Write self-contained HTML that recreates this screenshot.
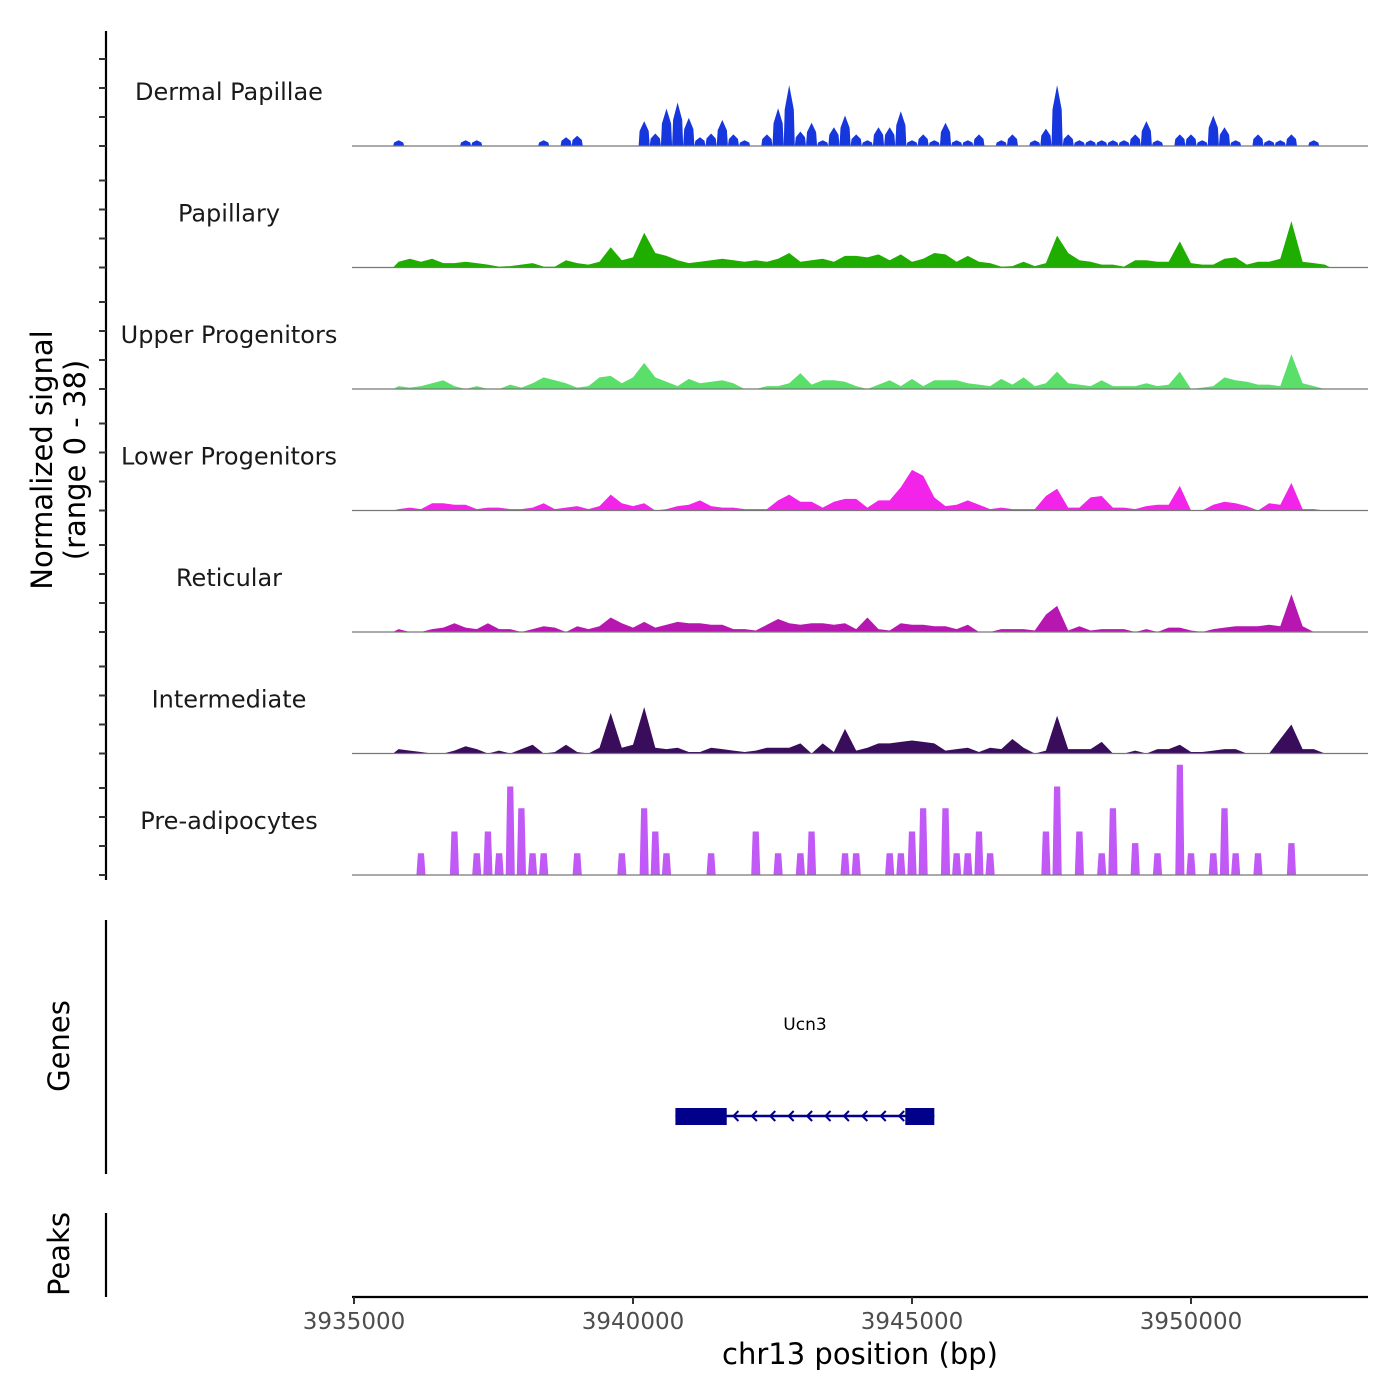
<!DOCTYPE html>
<html><head><meta charset="utf-8"><style>
html,body{margin:0;padding:0;background:#fff;}
svg{display:block;font-family:"DejaVu Sans","Liberation Sans",sans-serif;}
</style></head><body>
<svg id="chart" width="1400" height="1400" viewBox="0 0 1400 1400" xmlns="http://www.w3.org/2000/svg">
<g id="tracks"></g>
<g id="yaxis"><line x1="106" y1="31" x2="106" y2="880" stroke="#000" stroke-width="2.2"/></g>
<text x="52" y="460" transform="rotate(-90 52 460)" text-anchor="middle" font-size="29" fill="#000">Normalized signal</text>
<text x="85" y="460" transform="rotate(-90 85 460)" text-anchor="middle" font-size="29" fill="#000">(range 0 - 38)</text>
<line x1="106" y1="920" x2="106" y2="1174" stroke="#000" stroke-width="2.2"/>
<text x="69" y="1046" transform="rotate(-90 69 1046)" text-anchor="middle" font-size="29">Genes</text>
<line x1="106" y1="1213" x2="106" y2="1297" stroke="#000" stroke-width="2.2"/>
<text x="69" y="1254" transform="rotate(-90 69 1254)" text-anchor="middle" font-size="29">Peaks</text>
<g id="gene"></g>
<g id="xaxis"><line x1="352" y1="1297" x2="1368" y2="1297" stroke="#000" stroke-width="2.2"/></g>
<text x="860" y="1364" text-anchor="middle" font-size="29" fill="#000">chr13 position (bp)</text>
</svg>
<script>
const trackNames = ["Dermal Papillae","Papillary","Upper Progenitors","Lower Progenitors","Reticular","Intermediate","Pre-adipocytes"];
const trackColors = ["#1637DD","#1FAD00","#5AE06A","#F224EA","#B716B0","#3A0C5C","#C059F5"];
const binStart = 3935700;
const binSize = 200;
const dermalPapillae = [2,0,0,0,0,0,2,2,0,0,0,0,0,2,0,3,3.5,0,0,0,0,0,8.6,4.3,12.9,15,9.7,3,4.3,9,4,2,0,4,13,21,5,8,2,6.5,10.5,4,2,6.5,6.5,12,2,4,2,8,2,2,4,0,2,4,0,2,6,21,4,2,2,2,2,2,4,8.6,2,0,4,4,2,10.5,6.5,2,0,4,2,2,4,0,2,0];
const papillary = [2,3,2,3,1.5,1.5,2,1.5,1,0.3,0.5,1,1.5,0.3,0.3,2.5,1.5,1,2,7,2.5,3.5,12,5,4,2.5,1.5,2,2.5,3,2.5,2,2.5,2,3,5,2,2.5,3,2,4,4,3.5,4.5,2.5,4.5,2,3,5,4.5,2,4,2,1.5,0.3,0.5,2,0.5,1.5,11,5,2.5,2,1,1,0.3,2.5,2.5,2,2,9,1.5,1,1,3,3.5,1,2,2,3,16,2,1.5,1];
const upperProgenitors = [1,0.5,1,2,3,1,0,1,0,0,1.5,0.5,2,4,3,2,0.5,1,4,4.5,2,4,9,4,2.5,1,3.5,2,2.5,3,2,0,0,1,1,2,5.5,1.5,3,3,2.5,1,0,1.5,3,1,3.5,1,3,3,3,2,1.5,1,3.5,1.5,4,1,2,6,2,1.5,1,3,1,1,1,2,1,1.5,6,0,0.5,1,4,3,2.5,1.5,1.5,1,12,2,1,0];
const lowerProgenitors = [0.5,1,0.5,2.5,2.5,2,2,0.5,1,1,0.5,0.5,1,2.5,0.5,1,1.5,0.5,1.5,5.5,2.5,1.5,2.5,0,0.5,1.5,2,3.5,1.5,1,1,0.5,0.5,0.5,3.5,5.5,3,3,1,3,4,4,1,3.5,3.5,8,14,12,4.5,1.5,2,3.5,2,0.5,1,0.5,0.5,0.5,5,7.5,1,1,4.5,5,1,1,0.5,1.5,2,2,8.5,0,0,2,3,2.5,1.5,0,2.5,2,9.5,0.5,0.5,0];
const reticular = [1,0,0,1,1.5,3,1.5,1,3,1,1,0,1,2,1.5,0,2,1,2,5,3,1.5,3.5,1.5,2.5,3.5,3,3,2.5,2.5,1,1,0.5,2.5,4.5,3,2.5,3,3,2.5,3,1,5,1,0.5,3,2.5,2.5,2,2,1,2.5,0,0,1,1,1,0.5,6,9,0.5,2,0.5,1,1,1,0,1,0,1.5,1.5,0.5,0,1,1.5,2,2,2,2.5,2,13,2,0,0];
const intermediate = [1.5,1,0.5,0,0,1,2.5,1.5,0,1,0,1.5,3,0,0.5,3,0.5,0,2,14,2,3,16,2,1.5,2,0.5,0.5,2,1.5,1,0.5,1,2,2,2,3.5,0,3.5,0.5,8.5,1,2,3.5,3.5,4,4.5,4,3.5,1,1.5,2,0.5,2,1.5,5,2,0,1,13,1.5,1.5,1.5,4,0,0,1,0,1.5,1.5,3,0.5,0.5,1,1.5,1.5,0,0,0,5,10,1.5,1.5,0];
const preAdipocytes = [0,0,7.5,0,0,15,0,7.5,15,7.5,30.5,23,7.5,7.5,0,0,7.5,0,0,0,7.5,0,23,15,7.5,0,0,0,7.5,0,0,0,15,0,7.5,0,7.5,15,0,0,7.5,7.5,0,0,7.5,7.5,15,23,0,23,7.5,7.5,15,7.5,0,0,0,0,15,30.5,0,15,0,7.5,23,0,11,0,7.5,0,38,7.5,0,7.5,23,7.5,0,7.5,0,0,11,0,0,0];
const trackData = [dermalPapillae,papillary,upperProgenitors,lowerProgenitors,reticular,intermediate,preAdipocytes];
const xTicks = [3935000,3940000,3945000,3950000];
const geneStart = 3940760, geneEnd = 3945400;
const exons = [[3940760,3941680],[3944880,3945400]];

const NS="http://www.w3.org/2000/svg";
function xs(bp){return 354+(bp-3935000)*0.05580;}
const pxPerUnit=2.9, trackH=121.5, firstBase=146;
function mk(tag,attrs,parent){const e=document.createElementNS(NS,tag);for(const k in attrs)e.setAttribute(k,attrs[k]);parent.appendChild(e);return e;}
const tracks=document.getElementById('tracks');
const yaxis=document.getElementById('yaxis');
trackData.forEach((vals,t)=>{
  const base=firstBase+t*trackH;
  const ys=v=>base-v*pxPerUnit;
  const g=mk('g',{},tracks);
  
  
  let d='M'+xs(binStart).toFixed(1)+','+base;
  vals.forEach((v,i)=>{
    const x0=xs(binStart+i*binSize),x1=xs(binStart+(i+1)*binSize),xc=(x0+x1)/2;
    if(t===6){
      if(v>0){d+=' L'+(x0+1).toFixed(1)+','+base+' L'+(x0+2.5).toFixed(1)+','+ys(v).toFixed(1)+' L'+(x1-2.5).toFixed(1)+','+ys(v).toFixed(1)+' L'+(x1-1).toFixed(1)+','+base;}
    } else if(t===0){
      if(v>0){d+=' L'+x0.toFixed(1)+','+base+' L'+(x0+1).toFixed(1)+','+ys(v*0.6).toFixed(1)+' L'+xc.toFixed(1)+','+ys(v).toFixed(1)+' L'+(x1-1).toFixed(1)+','+ys(v*0.6).toFixed(1)+' L'+x1.toFixed(1)+','+base;}
    } else d+=' L'+xc.toFixed(1)+','+ys(v).toFixed(1);
  });
  d+=' L'+xs(binStart+vals.length*binSize).toFixed(1)+','+base+' Z';
  const p=mk('path',{d:d,fill:trackColors[t]},g);
  
  
  const bl=mk('line',{x1:352,x2:1368,y1:base,y2:base,stroke:'#777','stroke-width':1.2},g);
  
  
  const lb=mk('text',{x:229,y:base-46,'text-anchor':'middle','font-size':24,fill:'#1a1a1a'},g);
  lb.textContent=trackNames[t];
  
  
  [0,10,20,30].forEach(v=>{
    const tk=mk('line',{x1:99,x2:106,y1:ys(v),y2:ys(v),stroke:'#333','stroke-width':2},yaxis);
    
    
  });
});
const xa=document.getElementById('xaxis');
xTicks.forEach(v=>{
  const tk=mk('line',{x1:xs(v),x2:xs(v),y1:1297,y2:1304,stroke:'#333','stroke-width':2},xa);
  
  
  const tl=mk('text',{x:xs(v),y:1329,'text-anchor':'middle','font-size':23,fill:'#4d4d4d'},xa);
  tl.textContent=String(v);
  
  
});
const gg=document.getElementById('gene');
const gy=1116;
mk('line',{x1:xs(geneStart),x2:xs(geneEnd),y1:gy,y2:gy,stroke:'#00008B','stroke-width':2.5},gg);
exons.forEach(e=>{
  const r=mk('rect',{x:xs(e[0]),y:gy-8,width:xs(e[1])-xs(e[0]),height:17,fill:'#00008B'},gg);
  
  
});
for(let bp=3941800;bp<3944880;bp+=330){
  const x=xs(bp);
  mk('path',{d:'M'+(x+5)+','+(gy-5)+' L'+x+','+gy+' L'+(x+5)+','+(gy+5),stroke:'#00008B','stroke-width':2,fill:'none'},gg);
}
const gl=mk('text',{x:805,y:1030,'text-anchor':'middle','font-size':17,fill:'#000'},gg);
gl.textContent='Ucn3';


</script>
</body></html>
